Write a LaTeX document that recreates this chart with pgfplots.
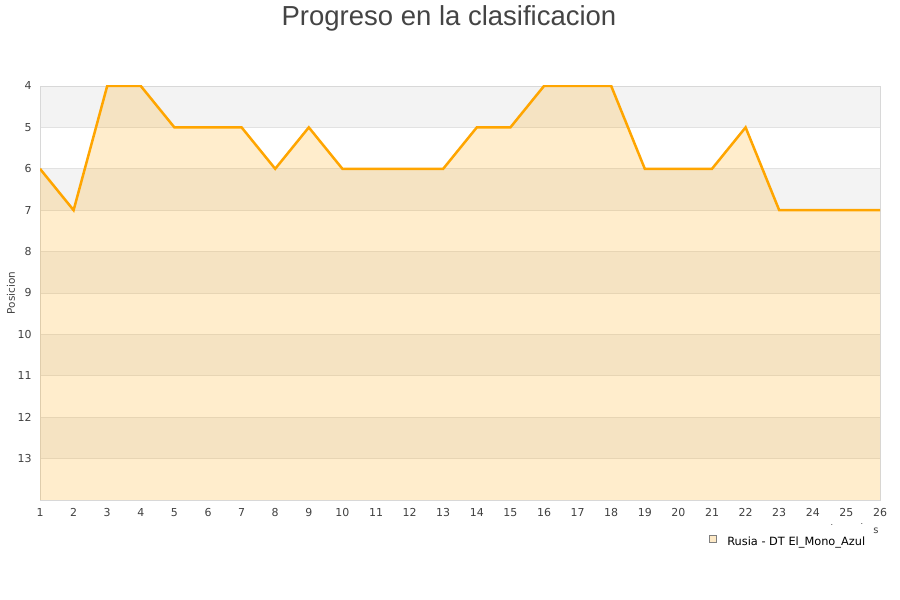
\documentclass[border=0pt]{standalone}
\usepackage{pgfplots}
\pgfplotsset{compat=1.18}
\usepackage{fontspec}
\setmainfont{DejaVu Sans}
\newfontfamily\titlefont{Liberation Sans}
\definecolor{lineor}{HTML}{FFA500}
\definecolor{band}{HTML}{F3F3F3}
\definecolor{gridc}{HTML}{E2E2E2}
\definecolor{borderc}{HTML}{D8D8D8}
\definecolor{tickc}{HTML}{404040}
\definecolor{titlec}{HTML}{444444}
\definecolor{legfill}{HTML}{FDE9C6}
\begin{document}
\begin{tikzpicture}
\path (0bp,0bp) rectangle (900bp,600bp);
\node[anchor=base, font=\titlefont\fontsize{27.6}{32}\selectfont, text=titlec] at (449bp,574bp) {Progreso en la clasificacion};
\begin{axis}[
  set layers,
  at={(40bp,100bp)}, anchor=south west,
  scale only axis, width=840bp, height=414bp,
  xmin=1, xmax=26, ymin=4, ymax=14, y dir=reverse,
  xtick={1,...,26}, ytick={4,...,13},
  ymajorgrids, major grid style={draw=gridc, line width=0.8bp},
  axis line style={draw=borderc, line width=0.8bp},
  major tick length=0pt,
  tick label style={font=\fontsize{11}{13}\selectfont, text=tickc},
  /pgf/number format/assume math mode=true,
  xticklabel style={yshift=-5bp},
  yticklabel style={xshift=-5bp},
  ylabel={Posicion},
  every axis y label/.style={at={(axis description cs:-0.0345,0.5)}, rotate=90, anchor=center, font=\fontsize{10.5}{12}\selectfont, text=tickc},
  legend style={at={(axis description cs:0.7964,-0.1002)}, anchor=west, draw=none, fill=none,
    font=\fontsize{11.4}{13}\selectfont, inner sep=0pt, column sep=7bp, nodes={inner sep=3.5bp}},
  legend image code/.code={\draw[draw=gray, fill=legfill, line width=0.6bp] (0bp,-0.5bp) rectangle (7bp,6.5bp);},
]
\addplot[on layer=axis background, draw=none, fill=band, forget plot] coordinates {(1,4) (26,4) (26,5) (1,5)} -- cycle;
\addplot[on layer=axis background, draw=none, fill=band, forget plot] coordinates {(1,6) (26,6) (26,7) (1,7)} -- cycle;
\addplot[on layer=axis background, draw=none, fill=band, forget plot] coordinates {(1,8) (26,8) (26,9) (1,9)} -- cycle;
\addplot[on layer=axis background, draw=none, fill=band, forget plot] coordinates {(1,10) (26,10) (26,11) (1,11)} -- cycle;
\addplot[on layer=axis background, draw=none, fill=band, forget plot] coordinates {(1,12) (26,12) (26,13) (1,13)} -- cycle;
\addplot[draw=none, fill=lineor, fill opacity=0.2, forget plot] coordinates {
(1,14) (1,6) (2,7) (3,4) (4,4) (5,5) (6,5) (7,5) (8,6) (9,5) (10,6) (11,6) (12,6) (13,6)
(14,5) (15,5) (16,4) (17,4) (18,4) (19,6) (20,6) (21,6) (22,5) (23,7) (24,7) (25,7) (26,7) (26,14)} -- cycle;
\addplot[draw=lineor, line width=2.5bp, mark=none] coordinates {
(1,6) (2,7) (3,4) (4,4) (5,5) (6,5) (7,5) (8,6) (9,5) (10,6) (11,6) (12,6) (13,6)
(14,5) (15,5) (16,4) (17,4) (18,4) (19,6) (20,6) (21,6) (22,5) (23,7) (24,7) (25,7) (26,7)};
\addlegendentry{Rusia - DT El\_Mono\_Azul}
\end{axis}
\node[font=\fontsize{10}{11}\selectfont, text=tickc] at (876bp,69bp) {s};
\node[font=\fontsize{8}{9}\selectfont, text=tickc] at (832bp,75bp) {.};
\node[font=\fontsize{8}{9}\selectfont, text=tickc] at (862bp,76bp) {.};
\end{tikzpicture}
\end{document}
